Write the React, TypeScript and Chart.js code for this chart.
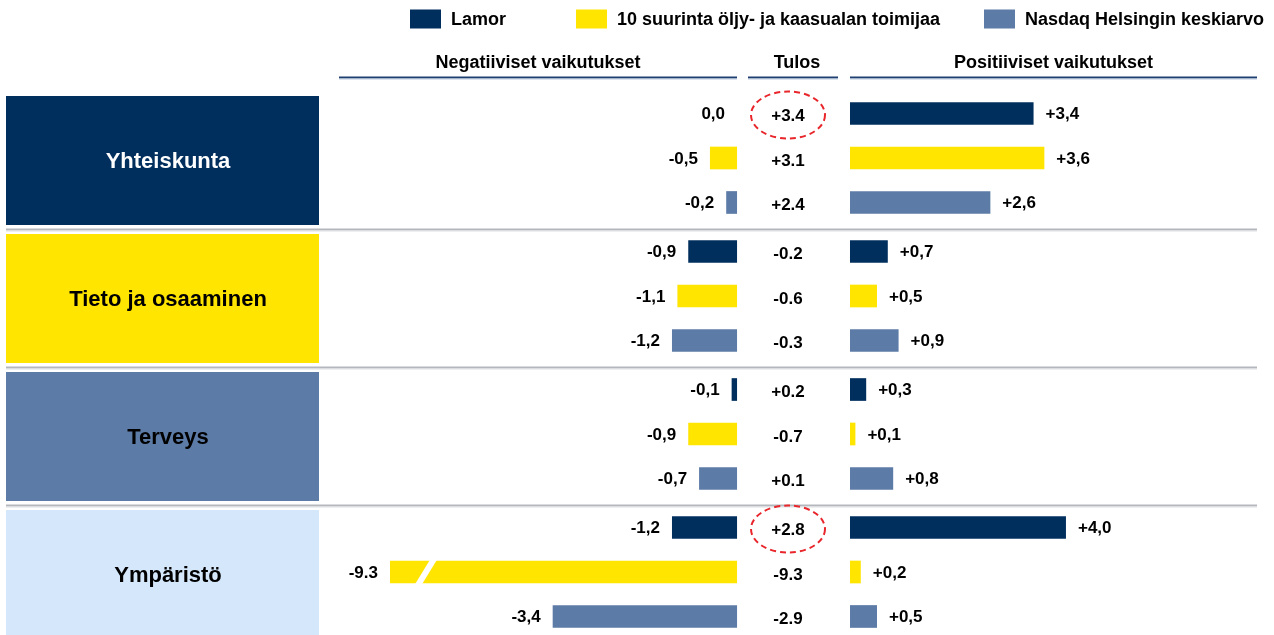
import React, { useEffect, useRef } from "react";
import { Chart, registerables } from "chart.js";

Chart.register(...registerables);

// ---------- data ----------
const categories = ["Yhteiskunta", "Tieto ja osaaminen", "Terveys", "Ympäristö"];
const seriesNames = [
  "Lamor",
  "10 suurinta öljy- ja kaasualan toimijaa",
  "Nasdaq Helsingin keskiarvo",
];
const panelHeaders = ["Negatiiviset vaikutukset", "Tulos", "Positiiviset vaikutukset"];

const lamorNegative = [0.0, -0.9, -0.1, -1.2];
const top10Negative = [-0.5, -1.1, -0.9, -9.3];
const nasdaqNegative = [-0.2, -1.2, -0.7, -3.4];

const lamorPositive = [3.4, 0.7, 0.3, 4.0];
const top10Positive = [3.6, 0.5, 0.1, 0.2];
const nasdaqPositive = [2.6, 0.9, 0.8, 0.5];

const lamorResult = [3.4, -0.2, 0.2, 2.8];
const top10Result = [3.1, -0.6, -0.7, -9.3];
const nasdaqResult = [2.4, -0.3, 0.1, -2.9];

// [seriesIndex, categoryIndex] of circled results
const highlightedResults = [
  [0, 0],
  [0, 3],
];

// ---------- styles ----------
const seriesColors = ["#002F5E", "#FFE500", "#5C7BA7"];
const categoryColors = ["#002F5E", "#FFE500", "#5C7BA7", "#D5E8FB"];
const categoryTextColors = ["#FFFFFF", "#000000", "#000000", "#000000"];
const FONT = '"Liberation Sans", Arial, Helvetica, sans-serif';

const W = 1274;
const H = 652;

const negativeSets = [lamorNegative, top10Negative, nasdaqNegative];
const positiveSets = [lamorPositive, top10Positive, nasdaqPositive];
const resultSets = [lamorResult, top10Result, nasdaqResult];

const fmtComma = (v: number, plus: boolean) => {
  const s = Math.abs(v).toFixed(1).replace(".", ",");
  if (v < 0) return "-" + s;
  return (plus ? "+" : "") + s;
};
const fmtDot = (v: number) => {
  const s = Math.abs(v).toFixed(1);
  if (v < 0) return "-" + s;
  if (v > 0) return "+" + s;
  return s;
};

const decorPlugin = {
  id: "decor",
  beforeDatasetsDraw(chart: any) {
    const ctx = chart.ctx;
    const y = chart.scales.y;
    const step = y.getPixelForValue(1) - y.getPixelForValue(0);
    ctx.save();
    // legend
    const legendX = [410, 576, 984];
    ctx.font = `bold 18px ${FONT}`;
    ctx.textBaseline = "middle";
    ctx.textAlign = "left";
    seriesNames.forEach((name, i) => {
      ctx.fillStyle = seriesColors[i];
      ctx.fillRect(legendX[i], 9.5, 31, 19);
      ctx.fillStyle = "#000";
      ctx.fillText(name, legendX[i] + 41, 20);
    });
    // panel headers
    const panels = [
      [339, 737],
      [748, 838],
      [850, 1257],
    ];
    panels.forEach(([a, b], i) => {
      ctx.fillStyle = "#000";
      ctx.textAlign = "center";
      ctx.font = `bold 18px ${FONT}`;
      ctx.fillText(panelHeaders[i], (a + b) / 2 + (i === 1 ? 4 : 0), 63);
      ctx.fillStyle = "#1F3F70";
      ctx.fillRect(a, 76.5, b - a, 2);
      ctx.fillStyle = "#B9C9DD";
      ctx.fillRect(a, 78.5, b - a, 1);
    });
    // category boxes and separators
    categories.forEach((cat, i) => {
      const c = y.getPixelForValue(i);
      const top = c - step / 2;
      const bottom = c + step / 2;
      ctx.fillStyle = categoryColors[i];
      ctx.fillRect(6, top + 7, 313, bottom - 2 - (top + 7));
      ctx.fillStyle = categoryTextColors[i];
      ctx.font = `bold 22px ${FONT}`;
      ctx.textAlign = "center";
      ctx.textBaseline = "middle";
      ctx.fillText(cat, 168, (top + 7 + bottom - 2) / 2 + 1);
      if (i < categories.length - 1) {
        ctx.fillStyle = "#B4B8BD";
        ctx.fillRect(6, bottom + 1.5, 1251, 2);
        ctx.fillStyle = "#DDE0E3";
        ctx.fillRect(6, bottom + 3.5, 1251, 1);
      }
    });
    ctx.restore();
  },
  afterDatasetsDraw(chart: any) {
    const ctx = chart.ctx;
    const area = chart.chartArea;
    ctx.save();
    ctx.font = `bold 17px ${FONT}`;
    ctx.textBaseline = "middle";
    ctx.fillStyle = "#000";
    const n = seriesNames.length;
    for (let s = 0; s < n; s++) {
      const negMeta = chart.getDatasetMeta(s);
      const posMeta = chart.getDatasetMeta(s + n);
      negMeta.data.forEach((el: any, j: number) => {
        const v = negativeSets[s][j];
        const left = Math.max(Math.min(el.x, el.base), area.left);
        const top = el.y - el.height / 2;
        const bottom = el.y + el.height / 2;
        const broken = el.x < area.left;
        if (broken) {
          // axis break mark
          ctx.fillStyle = "#FFFFFF";
          ctx.beginPath();
          ctx.moveTo(left + 40, top - 1);
          ctx.lineTo(left + 47, top - 1);
          ctx.lineTo(left + 32, bottom + 1);
          ctx.lineTo(left + 25, bottom + 1);
          ctx.closePath();
          ctx.fill();
          ctx.fillStyle = "#000";
        }
        ctx.textAlign = "right";
        const label = broken ? fmtDot(v) : fmtComma(v, false);
        ctx.fillText(label, left - 12, el.y + 1);
      });
      posMeta.data.forEach((el: any, j: number) => {
        const v = positiveSets[s][j];
        ctx.textAlign = "left";
        ctx.fillText(fmtComma(v, true), Math.max(el.x, el.base) + 12, el.y + 1);
        // result column
        ctx.textAlign = "center";
        ctx.fillText(fmtDot(resultSets[s][j]), 788, el.y + 3);
      });
    }
    // highlight ellipses
    ctx.strokeStyle = "#E8262B";
    ctx.lineWidth = 2;
    ctx.setLineDash([6, 4]);
    highlightedResults.forEach(([s, j]) => {
      const el = chart.getDatasetMeta(s + n).data[j];
      ctx.beginPath();
      ctx.ellipse(788, el.y + 1.5, 37, 23.5, 0, 0, Math.PI * 2);
      ctx.stroke();
    });
    ctx.restore();
  },
};

export default function App() {
  const ref = useRef<HTMLCanvasElement>(null);
  useEffect(() => {
    if (!ref.current) return;
    document.body.style.margin = "0";
    const datasets: any[] = [];
    seriesNames.forEach((name, i) => {
      datasets.push({
        label: name,
        data: negativeSets[i],
        backgroundColor: seriesColors[i],
        xAxisID: "xNeg",
        stack: "s" + i,
        barPercentage: 0.51,
        categoryPercentage: 0.967,
      });
    });
    seriesNames.forEach((name, i) => {
      datasets.push({
        label: name,
        data: positiveSets[i],
        backgroundColor: seriesColors[i],
        xAxisID: "xPos",
        stack: "s" + i,
        barPercentage: 0.51,
        categoryPercentage: 0.967,
      });
    });
    const chart = new Chart(ref.current, {
      type: "bar",
      data: { labels: categories, datasets },
      options: {
        indexAxis: "y",
        animation: false,
        responsive: false,
        layout: { padding: { left: 390, right: 18, top: 89, bottom: 11 } },
        plugins: { legend: { display: false }, tooltip: { enabled: false } },
        scales: {
          y: { type: "category", display: false },
          xNeg: { type: "linear", position: "bottom", display: false, min: -6.4, max: 9.57 },
          xPos: { type: "linear", position: "bottom", display: false, min: -8.52, max: 7.52 },
        },
      },
      plugins: [decorPlugin],
    });
    return () => chart.destroy();
  }, []);
  return (
    <div
      style={{
        position: "fixed",
        left: 0,
        top: 0,
        width: W,
        height: 635,
        overflow: "hidden",
        background: "#fff",
      }}
    >
      <canvas ref={ref} width={W} height={H} style={{ display: "block" }} />
    </div>
  );
}
